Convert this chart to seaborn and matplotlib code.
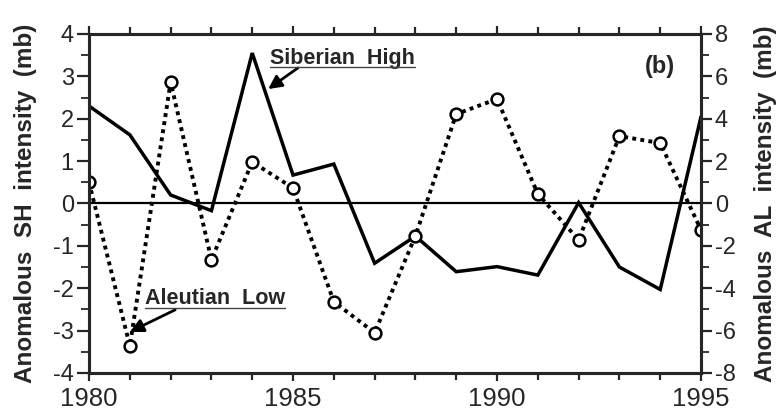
import numpy as np
import pandas as pd
import matplotlib
matplotlib.use("Agg")
import matplotlib.pyplot as plt
import seaborn as sns
from matplotlib.ticker import MultipleLocator, FixedLocator

years = list(range(1980, 1996))
sh_intensity = [2.3, 1.62, 0.2, -0.17, 3.55, 0.67, 0.93, -1.41, -0.77, -1.61,
                -1.49, -1.69, 0.02, -1.5, -2.03, 2.05]
al_intensity = [1.0, -6.72, 5.73, -2.66, 1.96, 0.73, -4.64, -6.1, -1.53, 4.22,
                4.93, 0.45, -1.72, 3.18, 2.85, -1.25]
xtick_labels = ["1980", "1985", "1990", "1995"]
left_label = "Anomalous  SH  intensity  (mb)"
right_label = "Anomalous  AL  intensity  (mb)"

sns.set_style("ticks")
plt.rcParams['font.family'] = ['Liberation Sans', 'DejaVu Sans']
plt.rcParams['axes.unicode_minus'] = False

df = pd.DataFrame({"year": years, "SH": sh_intensity, "AL": al_intensity})

fig = plt.figure(figsize=(7.81, 4.18), dpi=100)
ax = fig.add_axes([0.114, 0.1077, 0.7836, 0.811])
ax2 = ax.twinx()

sns.lineplot(data=df, x="year", y="SH", ax=ax, color="black", lw=2.5,
             solid_joinstyle="miter")
sns.lineplot(data=df, x="year", y="AL", ax=ax2, color="black", lw=2.8,
             linestyle=(0, (1, 1.1)), dash_capstyle="butt", marker="o",
             markersize=8.5, markerfacecolor="white", markeredgecolor="black",
             markeredgewidth=1.8)
ax.axhline(0, color="black", lw=1.6, zorder=1)

ax.set_xlim(1980, 1995)
ax.set_ylim(-4, 4)
ax2.set_ylim(-8, 8)

ax.xaxis.set_major_locator(FixedLocator([1980, 1985, 1990, 1995]))
ax.set_xticklabels(xtick_labels)
ax.xaxis.set_minor_locator(MultipleLocator(1))
ax.yaxis.set_major_locator(MultipleLocator(1))
ax.yaxis.set_minor_locator(MultipleLocator(0.5))
ax2.yaxis.set_major_locator(MultipleLocator(2))
ax2.yaxis.set_minor_locator(MultipleLocator(1))

ax.tick_params(axis="x", which="both", direction="out", top=True,
               labelsize=18.5, pad=4, width=1.6)
ax.tick_params(axis="x", which="major", length=6)
ax.tick_params(axis="x", which="minor", length=5)
ax.tick_params(axis="y", which="major", labelsize=17, length=9, width=1.6, pad=2)
ax.tick_params(axis="y", which="minor", length=6, width=1.3)
ax2.tick_params(axis="y", which="major", labelsize=17, length=8, width=1.6, pad=2)
ax2.tick_params(axis="y", which="minor", length=6, width=1.3)

for a in (ax, ax2):
    for s in a.spines.values():
        s.set_linewidth(2.2)
        s.set_visible(True)

ax.set_xlabel("")
ax.set_ylabel(left_label, fontsize=17.5, fontweight="bold")
ax2.set_ylabel(right_label, fontsize=17.5, fontweight="bold")
ax.yaxis.set_label_coords(-0.085, 0.5)
ax2.yaxis.set_label_coords(1.087, 0.5)

ax.text(0.957, 0.905, "(b)", transform=ax.transAxes, fontsize=17,
        fontweight="bold", ha="right", va="center")

labels = [("Siberian  High", 1984.44, 3.43, (1985.12, 3.2), (1984.39, 2.70)),
          ("Aleutian  Low", 1981.37, -2.25, (1982.11, -2.51), (1981.0, -3.03))]
texts = []
for txt, tx, ty, tail, tip in labels:
    t = ax.text(tx, ty, txt, fontsize=15.5, fontweight="bold", ha="left",
                va="center")
    texts.append(t)
    ax.annotate("", xy=tip, xytext=tail,
                arrowprops=dict(arrowstyle="-|>", color="black", lw=2.0,
                                mutation_scale=20, shrinkA=0, shrinkB=0))

fig.canvas.draw()
inv = fig.transFigure.inverted()
for t in texts:
    bb = t.get_window_extent()
    (x0, y0), (x1, y1) = inv.transform([[bb.x0, bb.y0], [bb.x1, bb.y0]])
    fig.add_artist(plt.Line2D([x0, x1], [y0 + 0.004, y0 + 0.004],
                              color="#444444", lw=1.0, transform=fig.transFigure))

fig.savefig("out.png", dpi=100)
